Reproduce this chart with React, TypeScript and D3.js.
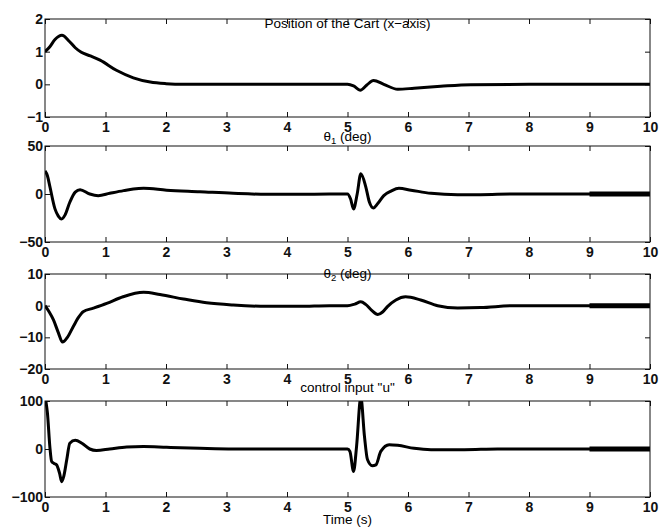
import React, { useEffect, useRef } from "react";
import * as d3 from "d3";

// ---- Data ----
const tPos = [0, 0.08, 0.165, 0.28, 0.4, 0.5, 0.6, 0.75, 0.91, 1.18, 1.46, 1.74, 2.0, 2.3, 3, 4, 5, 5.1, 5.21, 5.32, 5.43, 5.6, 5.83, 6.1, 6.54, 7.04, 8, 9, 10];
const vPos = [1.0, 1.15, 1.37, 1.5, 1.32, 1.12, 0.98, 0.87, 0.74, 0.43, 0.2, 0.07, 0.02, 0.0, 0, 0, 0, -0.05, -0.18, -0.02, 0.12, 0.0, -0.15, -0.12, -0.06, -0.01, 0, 0, 0];

const tTh1 = [0, 0.04, 0.08, 0.165, 0.22, 0.275, 0.33, 0.41, 0.5, 0.58, 0.74, 0.88, 1.07, 1.3, 1.46, 1.63, 2.01, 2.56, 3.11, 3.66, 4.2, 4.7, 5.0, 5.05, 5.1, 5.16, 5.22, 5.3, 5.36, 5.43, 5.5, 5.6, 5.72, 5.85, 6.05, 6.38, 6.82, 7.2, 7.75, 9, 10];
const vTh1 = [24, 19, 8, -15.5, -23, -26, -22, -8.6, 2, 4.5, 0, -1.7, 0.7, 3.5, 5.2, 5.9, 4, 2.4, 0.7, -0.3, -0.3, 0, 0, -5, -15.5, 0, 21, 8, -8, -14.5, -10, -1.7, 3, 5.9, 4, 0.7, -0.7, -0.7, 0, 0, 0];

const tTh2 = [0, 0.07, 0.14, 0.22, 0.29, 0.37, 0.47, 0.55, 0.63, 0.8, 1.02, 1.29, 1.63, 1.9, 2.29, 2.67, 3.11, 3.66, 4.2, 4.7, 5.0, 5.12, 5.22, 5.3, 5.4, 5.5, 5.58, 5.66, 5.8, 5.96, 6.21, 6.49, 6.82, 7.2, 7.75, 9, 10];
const vTh2 = [0, -2, -4.5, -8.5, -11.5, -10, -6.5, -3.8, -1.9, -0.8, 0.7, 2.8, 4.2, 3.5, 2.1, 0.9, 0.2, -0.2, -0.2, 0, 0, 0.5, 1.2, 0.4, -1.5, -2.8, -2.0, -0.3, 1.8, 2.8, 1.8, 0, -0.7, -0.6, 0, 0, 0];

const tU = [0, 0.02, 0.04, 0.08, 0.11, 0.15, 0.19, 0.24, 0.275, 0.31, 0.36, 0.41, 0.5, 0.61, 0.74, 0.85, 1.07, 1.35, 1.63, 2.01, 2.56, 3.11, 4, 5.0, 5.04, 5.1, 5.15, 5.22, 5.28, 5.33, 5.41, 5.47, 5.55, 5.69, 5.83, 6.1, 6.38, 6.93, 7.48, 9, 10];
const vU = [108, 95, 75, 5, -26, -30, -33, -50, -68, -57, -22, 12, 18, 12, 0, -3, 0, 4, 5, 3.5, 1.4, 0, 0, 0, -5, -47, 5.6, 108, 27, -22, -35, -33, -5, 9, 7.7, 1.4, -1.4, -1.4, 0, 0, 0];

const xTicks = [0, 1, 2, 3, 4, 5, 6, 7, 8, 9, 10];
const yTicksPos = [-1, 0, 1, 2];
const yTicksTh1 = [-50, 0, 50];
const yTicksTh2 = [-20, -10, 0, 10];
const yTicksU = [-100, 0, 100];

const titles = ["Position of the Cart (x\u2212axis)", "\u03b8|1| (deg)", "\u03b8|2| (deg)", "control input \"u\""];
const xLabel = "Time (s)";

// ---- Layout ----
const W = 659, H = 528;
const left = 45, right = 650;
const panels = [
  { top: 19, bottom: 117, t: tPos, v: vPos, dom: [-1, 2], ticks: yTicksPos, title: titles[0], titleY: 28, thick: false },
  { top: 146, bottom: 242, t: tTh1, v: vTh1, dom: [-50, 50], ticks: yTicksTh1, title: titles[1], titleY: 141, thick: true },
  { top: 274, bottom: 369, t: tTh2, v: vTh2, dom: [-20, 10], ticks: yTicksTh2, title: titles[2], titleY: 278, thick: true },
  { top: 401, bottom: 497, t: tU, v: vU, dom: [-100, 100], ticks: yTicksU, title: titles[3], titleY: 392, thick: true },
];

const FONT = "'Liberation Sans', Arial, Helvetica, sans-serif";
const fmt = (d: number) => (d < 0 ? "\u2212" + Math.abs(d) : String(d));

export default function App() {
  const ref = useRef<SVGSVGElement>(null);
  useEffect(() => {
    const svg = d3.select(ref.current);
    svg.selectAll("*").remove();
    svg.append("rect").attr("width", W).attr("height", H).attr("fill", "#fff");
    const x = d3.scaleLinear().domain([0, 10]).range([left, right]);

    panels.forEach((p, i) => {
      const y = d3.scaleLinear().domain(p.dom).range([p.bottom, p.top]);
      const g = svg.append("g");
      const clipId = "clip" + i;
      g.append("clipPath").attr("id", clipId).append("rect")
        .attr("x", left).attr("y", p.top).attr("width", right - left).attr("height", p.bottom - p.top);

      const styleAxis = (sel: any) => {
        sel.select(".domain").remove();
        sel.selectAll("line").attr("stroke", "#111").attr("stroke-width", 1);
        sel.selectAll("text").attr("font-family", FONT).attr("font-size", 14).attr("font-weight", "bold").attr("fill", "#111");
      };
      g.append("g").attr("transform", `translate(0,${p.bottom})`)
        .call(d3.axisBottom(x).tickValues(xTicks).tickSizeInner(-5).tickSizeOuter(0).tickPadding(5).tickFormat((d: any) => fmt(d)))
        .call(styleAxis);
      g.append("g").attr("transform", `translate(0,${p.top})`)
        .call(d3.axisTop(x).tickValues(xTicks).tickSizeInner(-5).tickSizeOuter(0).tickFormat(() => ""))
        .call(styleAxis);
      g.append("g").attr("transform", `translate(${left},0)`)
        .call(d3.axisLeft(y).tickValues(p.ticks).tickSizeInner(-5).tickSizeOuter(0).tickPadding(2).tickFormat((d: any) => fmt(d)))
        .call(styleAxis);
      g.append("g").attr("transform", `translate(${right},0)`)
        .call(d3.axisRight(y).tickValues(p.ticks).tickSizeInner(-5).tickSizeOuter(0).tickFormat(() => ""))
        .call(styleAxis);

      const pts = p.t.map((t, k) => [t, p.v[k]] as [number, number]);
      const line = d3.line<[number, number]>().x((d) => x(d[0])).y((d) => y(d[1])).curve(d3.curveMonotoneX);
      g.append("path").attr("d", line(pts)).attr("fill", "none").attr("stroke", "#000")
        .attr("stroke-width", 3).attr("stroke-linejoin", "round").attr("clip-path", `url(#${clipId})`);
      if (p.thick) {
        const tail = pts.filter((d) => d[0] >= 9);
        g.append("path").attr("d", line(tail)).attr("fill", "none").attr("stroke", "#000")
          .attr("stroke-width", 5).attr("clip-path", `url(#${clipId})`);
      }

      g.append("rect").attr("x", left).attr("y", p.top).attr("width", right - left).attr("height", p.bottom - p.top)
        .attr("fill", "none").attr("stroke", "#111").attr("stroke-width", 1);

      const tt = g.append("text").attr("x", (left + right) / 2).attr("y", p.titleY)
        .attr("text-anchor", "middle").attr("font-family", FONT).attr("font-size", 13.5).attr("fill", "#000");
      const parts = p.title.split("|");
      if (parts.length === 3) {
        tt.append("tspan").text(parts[0]);
        tt.append("tspan").attr("font-size", 9.5).attr("dy", 3).text(parts[1]);
        tt.append("tspan").attr("dy", -3).text(parts[2]);
      } else {
        tt.text(p.title);
      }
    });

    svg.append("text").attr("x", (left + right) / 2).attr("y", 524).attr("text-anchor", "middle")
      .attr("font-family", FONT).attr("font-size", 13.5).attr("fill", "#000").text(xLabel);
  }, []);

  return <svg ref={ref} width={W} height={H} style={{ position: "absolute", left: 0, top: 0, display: "block" }} />;
}
